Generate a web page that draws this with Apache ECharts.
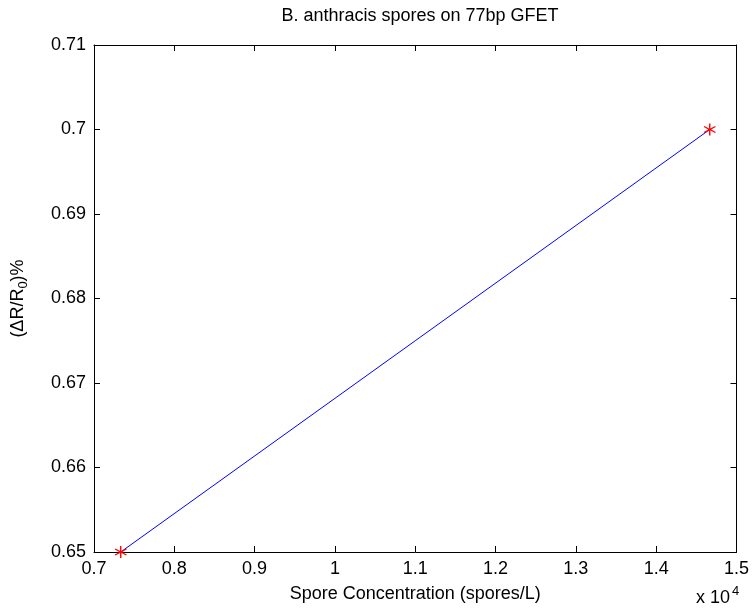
<!DOCTYPE html>
<html><head><meta charset="utf-8">
<script src="https://cdn.jsdelivr.net/npm/echarts@6/dist/echarts.min.js"></script>
<style>html,body{margin:0;padding:0;background:#fff}#c{width:752px;height:612px}</style>
</head><body><div id="c"></div>
<script>
const titleText = 'B. anthracis spores on 77bp GFET';
const xName = 'Spore Concentration (spores/L)';
const concentration = [7333, 14667];
const deltaR = [0.65, 0.70];
const xMin = 7000, xMax = 15000, xStep = 1000;
const yMin = 0.65, yMax = 0.71, yStep = 0.01;

const font = 'Liberation Sans, Arial, sans-serif';
const fs = 18;
const star = 'path://M9,0h2v7.6l6.6,-3.8l1,1.7l-6.6,3.8l6.6,3.8l-1,1.7l-6.6,-3.8v7.6h-2v-7.6l-6.6,3.8l-1,-1.7l6.6,-3.8l-6.6,-3.8l1,-1.7l6.6,3.8z';
const fmtX = v => String(Number((v / 1e4).toFixed(2)));
const fmtY = v => String(Number(v.toFixed(2)));
const axisCommon = {
  axisLine: {show: true, onZero: false, lineStyle: {color: '#000', width: 1}},
  axisTick: {show: true, inside: true, length: 6, lineStyle: {color: '#000'}},
  splitLine: {show: false}
};
const chart = echarts.init(document.getElementById('c'), null, {renderer: 'canvas'});
chart.setOption({
  animation: false,
  backgroundColor: '#fff',
  title: {text: titleText, left: 415, top: 2, textAlign: 'center',
    textStyle: {fontFamily: font, fontSize: fs, fontWeight: 'normal', color: '#000'}},
  grid: {left: 94, right: 15, top: 45, bottom: 60},
  graphic: [{type: 'text', left: 696, top: 585,
    style: {text: 'x 10{s|4}', rich: {s: {fontSize: 13, verticalAlign: 'top', padding: [0,0,14,2], fontFamily: font}},
      font: fs + 'px ' + font, fill: '#000'}}],
  xAxis: [
    Object.assign({type: 'value', min: xMin, max: xMax, interval: xStep, position: 'bottom',
      name: xName, nameLocation: 'middle', nameGap: 33,
      nameTextStyle: {fontFamily: font, fontSize: fs, color: '#000'},
      axisLabel: {formatter: fmtX, fontFamily: font, fontSize: fs, color: '#000', margin: 8}}, axisCommon),
    Object.assign({type: 'value', min: xMin, max: xMax, interval: xStep, position: 'top',
      axisLabel: {show: false}}, axisCommon)
  ],
  yAxis: [
    Object.assign({type: 'value', min: yMin, max: yMax, interval: yStep, position: 'left',
      name: '(ΔR/R{s|0})%', nameLocation: 'middle', nameGap: 64, nameRotate: 90,
      nameTextStyle: {fontFamily: font, fontSize: fs, color: '#000',
        rich: {s: {fontSize: 13, verticalAlign: 'bottom', padding: [10,0,0,0], fontFamily: font}}},
      axisLabel: {formatter: fmtY, fontFamily: font, fontSize: fs, color: '#000', margin: 8}}, axisCommon),
    Object.assign({type: 'value', min: yMin, max: yMax, interval: yStep, position: 'right',
      axisLabel: {show: false}}, axisCommon)
  ],
  series: [{
    type: 'line', data: concentration.map((x, i) => [x, deltaR[i]]),
    lineStyle: {color: '#0000ff', width: 1}, itemStyle: {color: '#ff0000'},
    symbol: star, symbolSize: 12, showSymbol: true
  }]
});
</script></body></html>
